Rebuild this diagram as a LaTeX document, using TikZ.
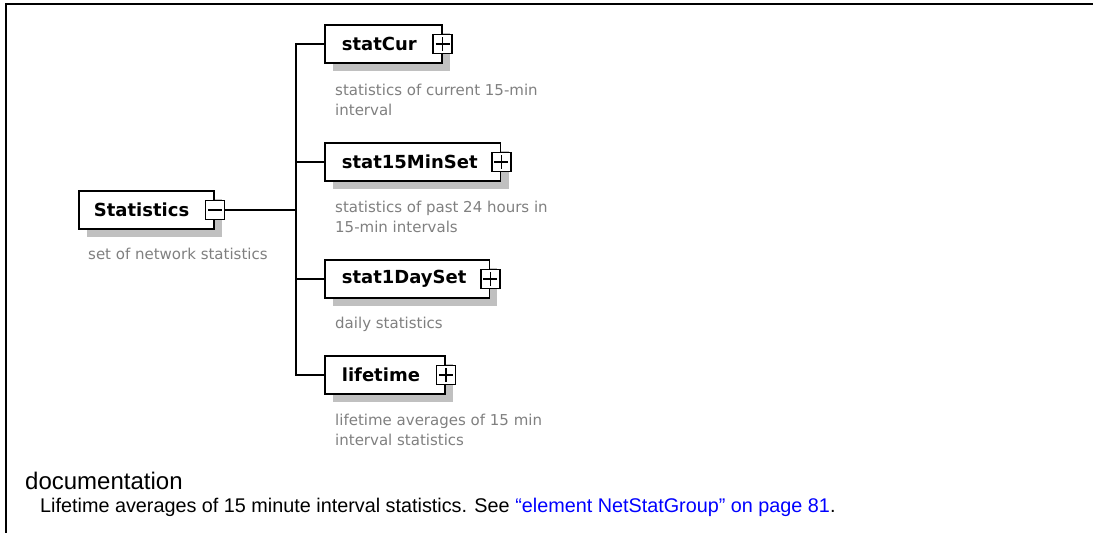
\documentclass[tikz,border=0pt]{standalone}
\usepackage{fontspec}
\setmainfont{DejaVu Sans}
\newfontfamily\docfont{Liberation Sans}
\usetikzlibrary{shadows}
\definecolor{descgray}{RGB}{128,128,128}
\definecolor{shadowgray}{RGB}{192,192,192}
\definecolor{linkblue}{RGB}{0,0,255}
\begin{document}
\begin{tikzpicture}[x=1pt,y=-1pt,
  elem/.style={draw=black, line width=1.7pt, fill=white, minimum height=38pt,
    inner xsep=0pt, inner ysep=0pt, anchor=west,
    font=\fontsize{18pt}{20pt}\selectfont\bfseries,
    general shadow={fill=shadowgray, shadow xshift=8pt, shadow yshift=-8pt, opacity=1}},
  expbox/.style={draw=black, fill=white, line width=1.5pt, minimum width=19pt,
    minimum height=19pt, inner sep=0pt},
  desc/.style={anchor=north west, inner sep=0pt, align=left, text=descgray,
    font=\fontsize{15pt}{20pt}\selectfont},
  conn/.style={draw=black, line width=1.7pt},
  doctitle/.style={anchor=base west, inner sep=0pt, font=\docfont\fontsize{24pt}{26pt}\selectfont},
  doctext/.style={anchor=base west, inner sep=0pt, font=\docfont\fontsize{19.8pt}{22pt}\selectfont}
]
\useasboundingbox (0,0) rectangle (1093,533);
\fill[white] (0,0) rectangle (1093,533);
% frame
\draw[line width=2.4pt] (6,533) -- (6,4) -- (1093,4);

% elements
\node[elem] (stat) at (78,210) {\hspace*{15pt}Statistics\hspace*{25pt}};
\node[elem] (cur) at (324,44) {\hspace*{17pt}statCur\hspace*{25pt}};
\node[elem] (min15) at (324,162) {\hspace*{17pt}stat15MinSet\hspace*{23pt}};
\node[elem] (day) at (324,279) {\hspace*{17pt}stat1DaySet\hspace*{23pt}};
\node[elem] (life) at (324,375) {\hspace*{17pt}lifetime\hspace*{25pt}};

% expand / collapse boxes
\node[expbox] (statx) at (stat.east) {};
\draw[line width=1.4pt] ([xshift=-7pt]statx.center) -- ([xshift=7pt]statx.center);
\foreach \n in {cur,min15,day,life}{
  \node[expbox] (\n x) at (\n.east) {};
  \draw[line width=1.4pt] ([xshift=-7pt]\n x.center) -- ([xshift=7pt]\n x.center)
    ([yshift=-7pt]\n x.center) -- ([yshift=7pt]\n x.center);
}

% connectors
\coordinate (trunk) at (296,210);
\draw[conn] (statx.east) -- (trunk);
\draw[conn] (cur.west) -| (trunk);
\draw[conn] (min15.west) -| (trunk);
\draw[conn] (day.west) -| (trunk);
\draw[conn] (life.west) -| (trunk);

% descriptions
\node[desc] (statd) at ([shift={(10,18)}]stat.south west) {set of network statistics};
\node[desc] (curd) at ([shift={(11,20)}]cur.south west) {statistics of current 15-min\\interval};
\node[desc] (mind) at ([shift={(11,19)}]min15.south west) {statistics of past 24 hours in\\15-min intervals};
\node[desc] (dayd) at ([shift={(11,18)}]day.south west) {daily statistics};
\node[desc] (lifed) at ([shift={(11,19)}]life.south west) {lifetime averages of 15 min\\interval statistics};

% documentation
\node[doctitle] (doc) at (25,489) {documentation};
\node[doctext] (doctxt) at (40,512) {Lifetime averages of 15 minute interval statistics. See \textcolor{linkblue}{“element NetStatGroup” on page 81}.};
\end{tikzpicture}
\end{document}
